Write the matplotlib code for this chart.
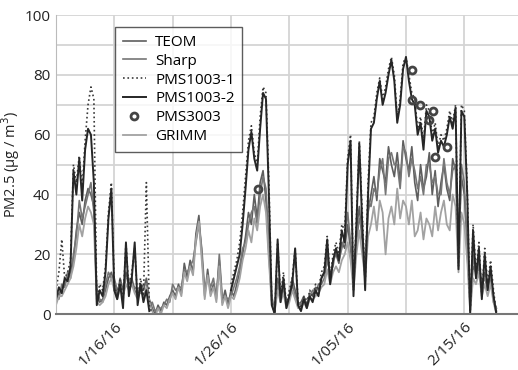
import numpy as np
import matplotlib
matplotlib.use("Agg")
from matplotlib import pyplot as plt
from matplotlib.transforms import ScaledTranslation

plt.rcParams['font.family'] = ['Open Sans', 'DejaVu Sans']

nan = np.nan

# readings every 6 hours, one row per day starting 1/11/16
pms1003_2 = [
    5, 9, 7, 12,
    11, 16, 48, 40,
    52, 38, 55, 62,
    60, 44, 3, 8,
    6, 14, 32, 42,
    8, 5, 10, 2,
    24, 6, 12, 24,
    3, 10, 4, 8,
    1, nan, nan, nan,
    nan, nan, nan, nan,
    nan, nan, nan, nan,
    nan, nan, nan, nan,
    nan, nan, nan, nan,
    nan, nan, nan, nan,
    nan, nan, nan, nan,
    8, 12, 16, 20,
    30, 42, 55, 61,
    52, 48, 62, 74,
    72, 40, 3, 0,
    25, 4, 12, 2,
    6, 10, 22, 3,
    1, 5, 2, 6,
    4, 8, 6, 12,
    14, 25, 10, 18,
    22, 18, 28, 24,
    50, 58, 6, 30,
    57, 30, 8, 40,
    62, 64, 72, 78,
    70, 74, 80, 85,
    78, 64, 70, 82,
    86, 78, 72, 70,
    60, 64, 55, 68,
    66, 58, 62, 54,
    58, 56, 60, 66,
    62, 69, 15, 68,
    66, 40, 0, 28,
    12, 22, 5, 20,
    8, 16, 6, 0,
]

pms1003_1 = [
    8, 14, 25, 12,
    14, 18, 50, 44,
    53, 42, 58, 70,
    76, 72, 5, 10,
    8, 16, 34, 44,
    10, 6, 12, 4,
    24, 8, 14, 22,
    5, 12, 6, 44,
    3, 0, nan, nan,
    nan, nan, nan, nan,
    nan, nan, nan, nan,
    nan, nan, nan, nan,
    nan, nan, nan, nan,
    nan, nan, nan, nan,
    nan, nan, nan, nan,
    10, 14, 18, 24,
    34, 46, 58, 63,
    54, 50, 66, 76,
    74, 44, 4, 0,
    24, 6, 14, 3,
    8, 12, 22, 4,
    2, 6, 3, 8,
    6, 10, 8, 14,
    16, 26, 12, 20,
    24, 20, 30, 28,
    52, 60, 8, 32,
    58, 34, 10, 44,
    64, 66, 74, 79,
    72, 76, 82, 86,
    80, 66, 72, 84,
    86, 80, 74, 72,
    62, 66, 58, 70,
    68, 60, 64, 56,
    60, 58, 62, 68,
    64, 70, 16, 70,
    68, 42, 0, 30,
    14, 24, 6, 22,
    10, 18, 8, 0,
]

teom = [
    4, 7, 8, 10,
    12, 14, 18, 28,
    34, 30, 38, 42,
    40, 36, 6, 4,
    5, 8, 12, 14,
    10, 6, 12, 8,
    14, 10, 12, 8,
    6, 10, 8, 12,
    5, 2, 0, 3,
    1, 4, 3, 6,
    8, 6, 10, 7,
    17, 12, 18, 14,
    27, 33, 20, 6,
    15, 7, 10, 6,
    18, 4, 8, 3,
    8, 6, 10, 14,
    20, 26, 34, 30,
    40, 32, 44, 48,
    38, 20, 4, 2,
    12, 5, 10, 3,
    6, 12, 8, 3,
    4, 6, 3, 7,
    6, 9, 8, 12,
    14, 20, 12, 18,
    20, 17, 24, 22,
    30, 22, 10, 28,
    36, 24, 16, 34,
    40, 46, 38, 52,
    48, 44, 56, 50,
    46, 54, 44, 58,
    52, 48, 56, 44,
    38, 50, 42, 46,
    54, 40, 48, 36,
    44, 50, 42, 38,
    52, 48, 20, 46,
    40, 24, 2, 16,
    14, 18, 8, 14,
    10, 12, 6, 1,
]

sharp = [
    6, 5, 10, 9,
    14, 12, 20, 26,
    38, 32, 36, 40,
    44, 34, 8, 5,
    4, 10, 14, 12,
    12, 8, 10, 6,
    12, 12, 10, 9,
    8, 7, 10, 10,
    3, 4, 1, 2,
    2, 3, 5, 4,
    10, 8, 9, 9,
    15, 14, 16, 18,
    24, 30, 22, 8,
    12, 9, 12, 5,
    20, 6, 6, 5,
    6, 9, 12, 16,
    22, 24, 30, 34,
    36, 30, 40, 46,
    42, 24, 6, 1,
    10, 6, 8, 4,
    5, 10, 6, 4,
    3, 5, 5, 6,
    8, 7, 10, 10,
    12, 18, 14, 16,
    22, 18, 22, 26,
    34, 24, 12, 24,
    32, 28, 14, 38,
    36, 42, 40, 48,
    52, 40, 52, 54,
    50, 50, 42, 56,
    54, 46, 52, 48,
    42, 46, 40, 50,
    50, 44, 46, 40,
    40, 52, 44, 40,
    48, 50, 18, 50,
    44, 20, 4, 20,
    12, 16, 10, 12,
    8, 14, 4, 2,
]

grimm = [
    3, 6, 6, 8,
    10, 12, 16, 22,
    30, 26, 32, 36,
    34, 30, 4, 3,
    4, 6, 10, 12,
    8, 5, 9, 6,
    10, 8, 10, 7,
    5, 8, 6, 9,
    4, 1, -1, 2,
    0, 3, 2, 5,
    7, 5, 9, 6,
    14, 11, 16, 13,
    25, 31, 18, 5,
    13, 6, 9, 4,
    16, 3, 6, 2,
    6, 5, 8, 12,
    18, 22, 28, 24,
    32, 28, 36, 40,
    34, 18, 3, 1,
    8, 4, 7, 2,
    4, 8, 5, 2,
    2, 4, 2, 5,
    5, 6, 7, 9,
    10, 15, 10, 14,
    16, 14, 18, 20,
    24, 18, 8, 20,
    28, 20, 12, 26,
    30, 36, 28, 38,
    34, 20, 32, 36,
    30, 42, 32, 38,
    36, 30, 38, 26,
    28, 34, 25, 32,
    30, 26, 36, 28,
    34, 38, 30, 28,
    40, 36, 14, 34,
    30, 18, 1, 12,
    10, 14, 6, 10,
    6, 10, 4, 0,
]

# sparse PMS3003 readings (days since 1/11/16)
pms3003_days = [17.3, 30.5, 30.5, 31.2, 32.0, 32.3, 32.5, 33.5]
pms3003_vals = [42, 81.5, 71.5, 70, 65, 68, 52.5, 56]

tick_days = [5, 15, 25, 35]
tick_labels = ["1/16/16", "1/26/16", "1/05/16", "2/15/16"]

days = np.arange(len(pms1003_2)) * 0.25

fig = plt.figure(figsize=(5.18, 3.70), dpi=100)
ax = fig.add_axes([0.108, 0.151, 0.892, 0.808])

ax.plot(days, teom, color='#5e5e5e', lw=1.2, label='TEOM')
ax.plot(days, sharp, color='#767676', lw=1.2, label='Sharp')
ax.plot(days, grimm, color='#a2a2a2', lw=1.3, label='GRIMM')
ax.plot(days, pms1003_1, color='#3a3a3a', lw=1.2, ls=':', label='PMS1003-1')
ax.plot(days, pms1003_2, color='#262626', lw=1.4, label='PMS1003-2')
ax.plot(pms3003_days, pms3003_vals, ls='none', marker='o', ms=5,
        mfc='none', mec='#444444', mew=2, label='PMS3003')

ax.set_xlim(0, 39.6)
ax.set_ylim(0, 100)
# gridlines every 5 days, labels every 10
ax.set_xticks(np.arange(0, 36, 5), minor=True)
ax.set_xticks(tick_days)
ax.set_xticklabels(tick_labels, rotation=45, ha='right', va='top',
                   rotation_mode='anchor')
shift = ScaledTranslation(6 / 72, 0, fig.dpi_scale_trans)
for t in ax.get_xticklabels():
    t.set_transform(t.get_transform() + shift)
ax.set_yticks(np.arange(0, 101, 20))
ax.set_yticks(np.arange(0, 101, 10), minor=True)
ax.tick_params(axis='both', which='both', length=0, labelsize=11, colors='#222222')
ax.tick_params(axis='x', pad=4)
ax.tick_params(axis='y', pad=4)
ax.grid(True, which='both', color='#d4d4d4', lw=1.3)
ax.set_axisbelow(True)
for s in ['top', 'right']:
    ax.spines[s].set_visible(False)
ax.spines['left'].set_color('#bbbbbb')
ax.spines['bottom'].set_color('#777777')
ax.spines['bottom'].set_linewidth(1.5)

ax.set_ylabel('PM2.5 (µg / m$^3$)', fontsize=10.5, color='#222222', labelpad=2)

handles, labels = ax.get_legend_handles_labels()
order = ['TEOM', 'Sharp', 'PMS1003-1', 'PMS1003-2', 'PMS3003', 'GRIMM']
h = [handles[labels.index(k)] for k in order]
leg = ax.legend(h, order, loc='upper left', bbox_to_anchor=(0.112, 0.985),
                fontsize=11, frameon=True, fancybox=False, handlelength=1.5,
                handletextpad=0.6, labelspacing=0.25, borderpad=0.5)
leg.get_frame().set_edgecolor('#333333')
leg.get_frame().set_linewidth(1.0)

fig.savefig('out.png', dpi=100)
